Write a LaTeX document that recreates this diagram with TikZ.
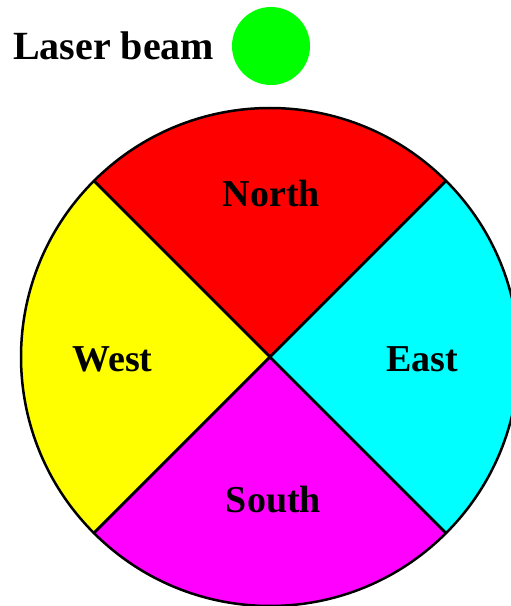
\documentclass[tikz,border=0pt]{standalone}
\usepackage{fontspec}
\setmainfont{Liberation Serif}
\usepackage{xcolor}
\usetikzlibrary{positioning}
\definecolor{cred}{RGB}{255, 0, 0}
\definecolor{cyellow}{RGB}{255, 255, 0}
\definecolor{ccyan}{RGB}{0, 255, 255}
\definecolor{cmagenta}{RGB}{255, 0, 255}
\definecolor{cgreen}{RGB}{0, 255, 0}

\begin{document}
\begin{tikzpicture}[x=1pt, y=1pt,
    dirlabel/.style={font=\fontsize{38}{42}\selectfont\bfseries, anchor=base, inner sep=0pt},
    sector/.style={draw=black, line width=2.5pt, line join=round}]
        \useasboundingbox (0,0) rectangle (511,606);
        % Disc centre
        \coordinate (c) at (270,249);
        % North sector
        \draw[sector, fill=cred] (c) -- ++(45:249)
          arc[start angle=45, end angle=135, radius=249] -- cycle;
        % West sector
        \draw[sector, fill=cyellow] (c) -- ++(135:249)
          arc[start angle=135, end angle=225, radius=249] -- cycle;
        % South sector
        \draw[sector, fill=cmagenta] (c) -- ++(225:249)
          arc[start angle=225, end angle=315, radius=249] -- cycle;
        % East sector
        \draw[sector, fill=ccyan] (c) -- ++(315:249)
          arc[start angle=315, end angle=405, radius=249] -- cycle;
        % Sector labels
        \node[dirlabel] (north) at (271.5,399) {North};
        \node[dirlabel] (west) at (112.5,234) {West};
        \node[dirlabel] (east) at (422.5,234) {East};
        \node[dirlabel] (south) at (273.5,93) {South};
        % Laser beam marker
        \node[font=\fontsize{40}{44}\selectfont\bfseries, anchor=base west, inner sep=0pt]
          (laser) at (13,546) {Laser beam};
        \node[circle, fill=cgreen, minimum size=78pt, inner sep=0pt]
          (beam) at (271,560) {};
      \end{tikzpicture}
\end{document}
